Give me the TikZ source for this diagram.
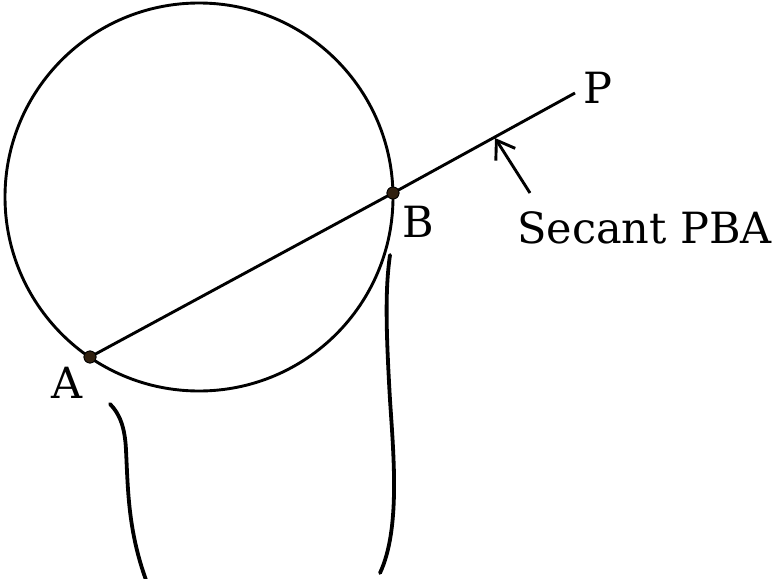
\documentclass[tikz,border=0pt]{standalone}
\usepackage{fontspec}
\setmainfont{DejaVu Serif}
\usetikzlibrary{arrows.meta}
\begin{document}
\begin{tikzpicture}[x=1pt,y=-1pt,
  geom/.style={line width=2.9pt,black},
  hand/.style={line width=3.8pt,black,line cap=round,line join=round},
  lbl/.style={anchor=base west,inner sep=0pt,font=\fontsize{43}{50}\selectfont},
  pt/.style={circle,fill=black!75!brown,draw=black,line width=0.8pt,minimum size=12pt,inner sep=0pt}]
\useasboundingbox (0,0) rectangle (784,578);
\coordinate (O) at (199,197);
\draw[geom] (O) circle (194);
\coordinate (Pe) at (575,93);
\node[pt] (A) at (90,357) {};
\node[pt] (B) at (393,193) {};
\draw[geom] (A.center) -- (B.center) -- (Pe);
\node[pt] at (A) {};
\node[pt] at (B) {};
\node[lbl] (lP) at (583,103) {P};
\node[lbl] (lB) at (402,237) {B};
\node[lbl] (lA) at (51,398) {A};
\node[lbl] (lS) at (517,243) {Secant PBA};
\coordinate (tail) at (530,193);
\coordinate (tip) at (495,138);
\draw[line width=2.9pt,-{Straight Barb[length=17pt,width=23pt,line width=2.9pt]}] (tail) -- (tip);
\draw[hand] (110,404) .. controls (120,414) and (125,428) .. (126,450)
  .. controls (128,490) and (128,530) .. (146,580);
\draw[hand] (390,255) .. controls (385,290) and (386,330) .. (390,400)
  .. controls (394,460) and (400,530) .. (380,573);
\end{tikzpicture}
\end{document}
